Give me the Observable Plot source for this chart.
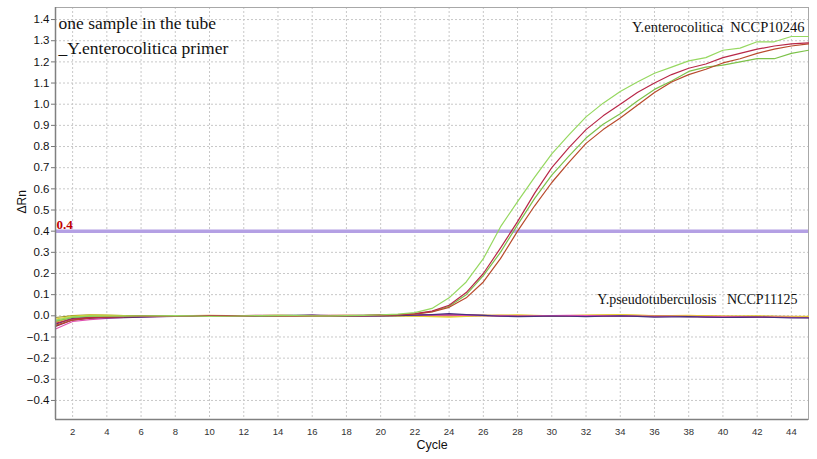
<!DOCTYPE html>
<html>
<head>
<meta charset="utf-8">
<script src="https://cdn.jsdelivr.net/npm/d3@7"></script>
<script src="https://cdn.jsdelivr.net/npm/@observablehq/plot@0.6"></script>
<style>
  html, body { margin: 0; padding: 0; background: #fff; }
  #chart svg { display: block; }
</style>
</head>
<body>
<div id="chart"></div>
<script>
const cycles = [1,2,3,4,5,6,7,8,9,10,11,12,13,14,15,16,17,18,19,20,21,22,23,24,25,26,27,28,29,30,31,32,33,34,35,36,37,38,39,40,41,42,43,44,45];

// Y.enterocolitica NCCP10246 amplification curves
const posGreen1 = [-0.02,-0.005,0.000,-0.002,-0.002,-0.001,0.000,0.001,0.000,-0.003,-0.002,0.000,0.001,0.002,0.001,0.000,0.000,0.001,0.002,0.004,0.008,0.015,0.035,0.085,0.16,0.27,0.42,0.54,0.655,0.765,0.855,0.94,1.005,1.06,1.105,1.146,1.175,1.205,1.22,1.255,1.265,1.295,1.295,1.32,1.32];
const posCrimson = [-0.035,-0.015,-0.008,-0.005,-0.004,-0.003,-0.002,-0.001,0.000,0.001,0.000,0.001,0.002,0.001,0.000,0.001,0.002,0.001,0.002,0.003,0.005,0.010,0.022,0.05,0.11,0.2,0.32,0.445,0.58,0.70,0.795,0.88,0.945,1.0,1.055,1.10,1.14,1.17,1.19,1.22,1.24,1.26,1.275,1.285,1.29];
const posGreen2 = [-0.025,-0.008,-0.003,-0.002,-0.001,0.000,0.000,0.001,0.000,-0.001,0.000,0.001,0.000,0.001,0.002,0.001,0.000,0.001,0.002,0.003,0.005,0.009,0.02,0.045,0.10,0.19,0.30,0.43,0.555,0.665,0.755,0.84,0.905,0.955,1.015,1.07,1.11,1.155,1.175,1.185,1.20,1.215,1.215,1.24,1.255];
const posBrown = [-0.045,-0.02,-0.01,-0.006,-0.004,-0.003,-0.002,-0.001,0.000,0.000,0.001,0.000,0.001,0.002,0.001,0.000,0.001,0.002,0.001,0.003,0.004,0.008,0.018,0.04,0.085,0.16,0.27,0.40,0.52,0.63,0.725,0.815,0.88,0.935,0.995,1.055,1.105,1.14,1.165,1.195,1.215,1.24,1.26,1.275,1.285];

// Y.pseudotuberculosis NCCP11125 (no amplification)
const negPurple = [-0.04,-0.012,-0.008,-0.010,-0.009,-0.006,-0.004,-0.003,-0.003,-0.002,-0.001,0.000,0.000,0.001,0.002,0.003,0.001,-0.002,-0.001,0.000,0.001,0.003,0.006,0.010,0.006,0.002,-0.002,-0.004,-0.003,-0.001,-0.002,-0.004,-0.002,0.000,-0.003,-0.006,-0.005,-0.004,-0.006,-0.008,-0.007,-0.006,-0.008,-0.010,-0.010];
const negYellow = [-0.015,-0.002,0.003,0.002,0.001,0.000,-0.001,0.000,0.001,0.000,-0.002,-0.003,-0.001,0.000,0.001,0.000,-0.001,0.000,0.001,0.002,0.000,-0.002,-0.004,-0.006,-0.003,0.000,0.002,0.004,0.002,0.000,0.001,0.003,0.005,0.006,0.003,0.000,0.001,0.002,0.000,-0.002,-0.001,0.000,-0.003,-0.004,-0.002];
const negPink = [-0.062,-0.027,-0.018,-0.012,-0.008,-0.005,-0.004,-0.002,-0.002,-0.001,0.000,-0.001,0.001,0.001,0.000,0.002,-0.002,-0.001,0.000,0.001,0.002,0.003,0.004,0.003,0.002,0.001,0.000,-0.001,0.000,0.001,0.002,0.001,0.000,0.001,-0.001,-0.002,-0.003,-0.002,-0.004,-0.005,-0.005,-0.006,-0.006,-0.007,-0.008];
const negOlive = [-0.008,0.001,0.004,0.003,0.001,0.000,0.000,-0.001,0.000,0.001,0.000,0.000,0.001,0.000,-0.001,0.000,0.001,0.001,0.000,0.000,0.001,0.000,-0.001,0.000,0.001,0.002,0.001,0.000,-0.001,0.000,0.001,0.000,0.001,0.002,0.000,-0.001,0.000,0.001,-0.001,-0.002,-0.003,-0.002,-0.003,-0.004,-0.005];
const negMaroon = [-0.05,-0.02,-0.012,-0.008,-0.006,-0.004,-0.003,-0.002,-0.001,0.000,0.001,0.000,-0.001,0.000,0.001,0.002,0.000,-0.001,0.000,0.001,0.002,0.003,0.004,0.005,0.004,0.002,0.000,-0.001,-0.002,-0.001,0.000,0.001,0.000,-0.001,-0.002,-0.003,-0.002,-0.004,-0.005,-0.006,-0.005,-0.006,-0.007,-0.008,-0.009];
const negOrange = [-0.03,-0.008,-0.002,0.000,0.001,0.000,-0.001,0.000,0.001,0.002,0.001,0.000,0.001,0.002,0.001,0.000,0.001,0.002,0.001,0.002,0.003,0.002,0.001,0.000,0.001,0.002,0.003,0.002,0.001,0.000,0.001,0.002,0.003,0.004,0.002,0.001,0.000,0.001,0.000,-0.001,-0.002,-0.003,-0.002,-0.003,-0.004];

const seriesNames = ["negOlive","negOrange","negYellow","negMaroon","negPink","negPurple","posGreen2","posBrown","posCrimson","posGreen1"];
const seriesValues = [negOlive,negOrange,negYellow,negMaroon,negPink,negPurple,posGreen2,posBrown,posCrimson,posGreen1];
const seriesColors = ["#9a9a2a","#e0a040","#e8d030","#8a2a4a","#e050b0","#4a2f80","#7cc24a","#b84a2c","#b82848","#96d860"];

const threshold = [0.4];
const thresholdLabel = ["0.4"];
const yTicks = [-0.4,-0.3,-0.2,-0.1,0.0,0.1,0.2,0.3,0.4,0.5,0.6,0.7,0.8,0.9,1.0,1.1,1.2,1.3,1.4];
const xTicks = [2,4,6,8,10,12,14,16,18,20,22,24,26,28,30,32,34,36,38,40,42,44];
const xDomain = [1, 45];
const yDomain = [-0.49, 1.457];
const titleLines = ["one sample in the tube", "_Y.enterocolitica primer"];
const posLabel = ["Y.enterocolitica  NCCP10246"];
const negLabel = ["Y.pseudotuberculosis   NCCP11125"];
const xLabel = ["Cycle"];
const yLabel = ["ΔRn"];

const rows = [];
seriesNames.forEach((name, i) => {
  seriesValues[i].forEach((v, j) => rows.push({series: name, cycle: cycles[j], rn: v}));
});

const serif = "'Liberation Serif', 'DejaVu Serif', serif";
const sans = "'Liberation Sans', Arial, sans-serif";

const chart = Plot.plot({
  width: 817,
  height: 459,
  marginLeft: 55,
  marginRight: 9,
  marginTop: 7,
  marginBottom: 40,
  style: {fontFamily: sans, background: "#fff", overflow: "visible"},
  x: {domain: xDomain},
  y: {domain: yDomain},
  color: {domain: seriesNames, range: seriesColors},
  marks: [
    Plot.gridY(yTicks, {stroke: "#c8c8c8", strokeOpacity: 1, strokeDasharray: "2,2"}),
    Plot.gridX(xTicks, {stroke: "#c8c8c8", strokeOpacity: 1, strokeDasharray: "2,2"}),
    Plot.frame({stroke: "#a8a8a8"}),
    Plot.ruleY(threshold, {stroke: "#b4a0e4", strokeWidth: 3.5}),
    Plot.line(rows, {x: "cycle", y: "rn", z: "series", stroke: "series", strokeWidth: 1.2}),
    Plot.axisY(yTicks, {tickFormat: d3.format(".1f"), tickSize: 4, tickPadding: 2, fontSize: 11.5, color: "#111", stroke: "#777", label: null}),
    Plot.axisX(xTicks, {tickSize: 0, tickPadding: 9, fontSize: 9.5, color: "#333", label: null}),
    Plot.ruleX([xDomain[0]], {stroke: "#808080", strokeWidth: 1.5}),
    Plot.ruleY([yDomain[0]], {stroke: "#808080", strokeWidth: 1.5}),
    Plot.text(thresholdLabel, {x: xDomain[0], y: threshold, text: d => d, textAnchor: "start", dx: 1, dy: -6,
      fill: "#c00000", fontWeight: "bold", fontSize: 13, fontFamily: serif}),
    Plot.text(xLabel, {frameAnchor: "bottom", lineAnchor: "middle", text: d => d, dy: 25, fontSize: 12.5, fontFamily: sans, fill: "#111"}),
    Plot.text(yLabel, {frameAnchor: "left", text: d => d, dx: -33, dy: 0, rotate: -90, fontSize: 12, fontFamily: sans, fill: "#111"}),
    Plot.text([titleLines[0]], {frameAnchor: "top-left", text: d => d, dx: 3, dy: 9, fontSize: 17.5, fontFamily: serif, fill: "#111", textLength: 157, lengthAdjust: "spacingAndGlyphs"}),
    Plot.text([titleLines[1]], {frameAnchor: "top-left", text: d => d, dx: 3, dy: 34, fontSize: 17.5, fontFamily: serif, fill: "#111", textLength: 165, lengthAdjust: "spacingAndGlyphs"}),
    Plot.text(posLabel, {frameAnchor: "top-right", text: d => d, dx: -4, dy: 14, fontSize: 14.5, fontFamily: serif, fill: "#111"}),
    Plot.text(negLabel, {frameAnchor: "top-right", text: d => d, dx: -11, dy: 287, fontSize: 14, fontFamily: serif, fill: "#111"})
  ]
});
document.getElementById("chart").appendChild(chart);
</script>
</body>
</html>
